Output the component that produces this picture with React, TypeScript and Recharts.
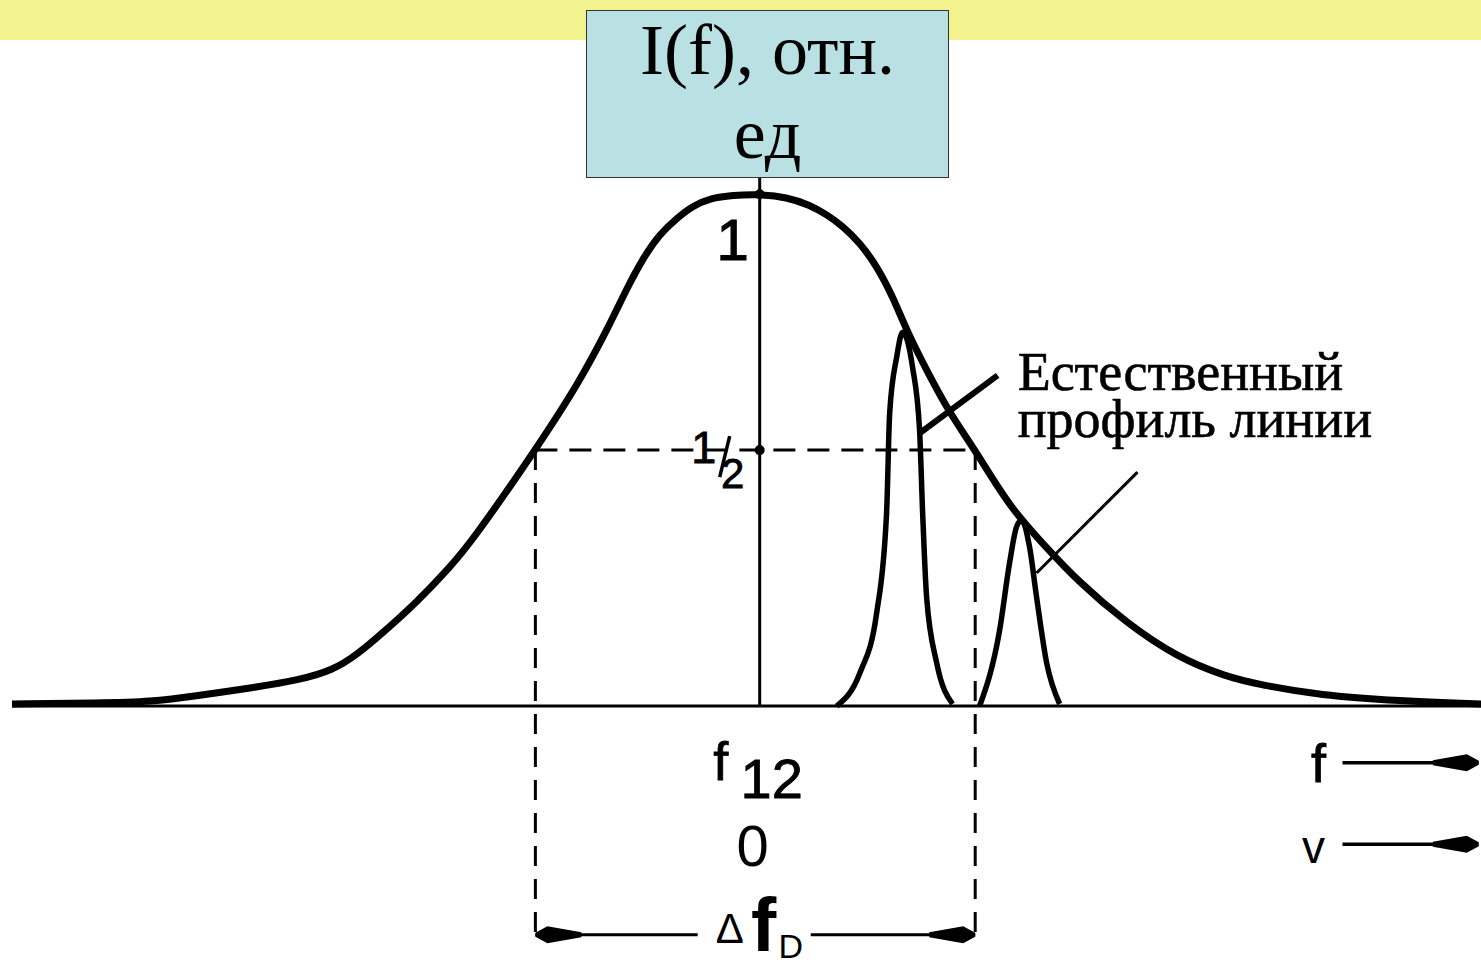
import { ComposedChart, Line, XAxis, YAxis, ReferenceLine, ReferenceDot } from 'recharts'

// Doppler profile I(f), normalised to 1 at the line centre f12
const dopplerF = [-3.4, -3.0, -2.773, -2.545, -2.318, -2.091, -1.941, -1.832, -1.714, -1.559, -1.409, -1.305, -1.02, -0.818, -0.682, -0.605, -0.532, -0.455, -0.377, -0.305, -0.227, -0.123, 0, 0.123, 0.227, 0.305, 0.377, 0.455, 0.532, 0.605, 0.668, 0.759, 0.864, 0.98, 1.136, 1.286, 1.441, 1.668, 1.895, 2.123, 2.273, 2.545, 2.909, 3.28]
const dopplerI = [0.004, 0.006, 0.008, 0.021, 0.035, 0.051, 0.07, 0.1, 0.143, 0.203, 0.271, 0.324, 0.5, 0.634, 0.745, 0.815, 0.874, 0.922, 0.953, 0.977, 0.992, 0.998, 1, 0.994, 0.979, 0.96, 0.938, 0.905, 0.86, 0.8, 0.734, 0.656, 0.572, 0.5, 0.389, 0.318, 0.246, 0.162, 0.096, 0.057, 0.042, 0.021, 0.01, 0.004]

// two natural line profiles sitting under the Doppler envelope
const natural1F = [0.35, 0.455, 0.532, 0.577, 0.591, 0.623, 0.65, 0.695, 0.727, 0.741, 0.759, 0.805, 0.877]
const natural1I = [0, 0.064, 0.182, 0.377, 0.572, 0.682, 0.73, 0.662, 0.539, 0.377, 0.213, 0.084, 0.004]
const natural2F = [1.0, 1.091, 1.136, 1.168, 1.191, 1.227, 1.259, 1.305, 1.364]
const natural2I = [0, 0.148, 0.279, 0.35, 0.363, 0.311, 0.213, 0.084, 0.004]

// half-maximum points of the Doppler profile (width = Δf_D)
const halfLeft = -1.02
const halfRight = 0.98

const toRows = (f: number[], i: number[]) => f.map((x, k) => ({ x, y: i[k] }))
const doppler = toRows(dopplerF, dopplerI)
const natural1 = toRows(natural1F, natural1I)
const natural2 = toRows(natural2F, natural2I)

const SANS = '"Liberation Sans", Arial, sans-serif'
const SERIF = '"Liberation Serif", "Times New Roman", serif'

const arrowHead = (dir: 1 | -1) => (p: any) => {
  const { cx, cy } = p
  const pts = [[0, -2], [0, 2], [-12, 8.5], [-46, 2.5], [-46, -2.5], [-12, -8.5]]
    .map(([dx, dy]) => `${cx + dir * dx},${cy + dy}`)
    .join(' ')
  return <polygon points={pts} fill="#000" />
}

export default function App() {
  return (
    <div style={{ position: 'absolute', left: 0, top: 0, width: 1481, height: 966, background: '#fff', overflow: 'hidden' }}>
      <div style={{ position: 'absolute', left: 0, top: 0, width: 1481, height: 40, background: '#f2f28e' }} />
      <div style={{ position: 'absolute', left: 0, top: 0 }}>
        <ComposedChart width={1481} height={966} margin={{ top: 15, right: 0, bottom: 4, left: 12 }}>
          <XAxis type="number" dataKey="x" domain={[-3.4, 3.28]} hide allowDataOverflow />
          <YAxis type="number" domain={[-0.5, 1.35]} hide allowDataOverflow />

          {/* frequency axis */}
          <ReferenceLine segment={[{ x: -3.4, y: 0 }, { x: 3.28, y: 0 }]} stroke="#000" strokeWidth={3} />
          {/* centre line f12 */}
          <ReferenceLine segment={[{ x: 0, y: 0 }, { x: 0, y: 1.035 }]} stroke="#000" strokeWidth={3} />

          {/* half-maximum construction */}
          <ReferenceLine segment={[{ x: halfLeft, y: 0.5 }, { x: halfRight, y: 0.5 }]} stroke="#000" strokeWidth={3} strokeDasharray="22 12" />
          <ReferenceLine segment={[{ x: halfLeft, y: 0.5 }, { x: halfLeft, y: -0.462 }]} stroke="#000" strokeWidth={3} strokeDasharray="20 13" />
          <ReferenceLine segment={[{ x: halfRight, y: 0.5 }, { x: halfRight, y: -0.462 }]} stroke="#000" strokeWidth={3} strokeDasharray="20 13" />

          {/* Δf_D dimension arrows */}
          <ReferenceLine segment={[{ x: halfLeft, y: -0.447 }, { x: -0.282, y: -0.447 }]} stroke="#000" strokeWidth={3} />
          <ReferenceLine segment={[{ x: 0.232, y: -0.447 }, { x: halfRight, y: -0.447 }]} stroke="#000" strokeWidth={3} />
          <ReferenceDot x={halfLeft} y={-0.447} r={1} shape={arrowHead(-1)} />
          <ReferenceDot x={halfRight} y={-0.447} r={1} shape={arrowHead(1)} />

          {/* f and v direction arrows */}
          <ReferenceLine segment={[{ x: 2.65, y: -0.111 }, { x: 3.24, y: -0.111 }]} stroke="#000" strokeWidth={3.5} />
          <ReferenceLine segment={[{ x: 2.65, y: -0.27 }, { x: 3.24, y: -0.27 }]} stroke="#000" strokeWidth={3.5} />
          <ReferenceDot x={3.27} y={-0.111} r={1} shape={arrowHead(1)} />
          <ReferenceDot x={3.27} y={-0.27} r={1} shape={arrowHead(1)} />

          {/* leader lines to the natural profiles */}
          <ReferenceLine segment={[{ x: 0.727, y: 0.533 }, { x: 1.082, y: 0.646 }]} stroke="#000" strokeWidth={6} />
          <ReferenceLine segment={[{ x: 1.259, y: 0.26 }, { x: 1.718, y: 0.457 }]} stroke="#000" strokeWidth={3} />

          <Line data={doppler} dataKey="y" type="basis" stroke="#000" strokeWidth={7} dot={false} isAnimationActive={false} />
          <Line data={natural1} dataKey="y" type="monotone" stroke="#000" strokeWidth={5.5} dot={false} isAnimationActive={false} />
          <Line data={natural2} dataKey="y" type="monotone" stroke="#000" strokeWidth={5.5} dot={false} isAnimationActive={false} />

          <ReferenceDot x={0} y={1} r={5} fill="#000" stroke="none" />
          <ReferenceDot x={0} y={0.5} r={5} fill="#000" stroke="none" />

          {/* value labels */}
          <ReferenceDot x={-0.123} y={0.871} r={1} shape={(p: any) => (
            <text x={p.cx} y={p.cy} textAnchor="middle" fontFamily={SANS} fontSize={58} stroke="#000" strokeWidth={1.2}>1</text>
          )} />
          <ReferenceDot x={0} y={0.5} r={1} shape={(p: any) => (
            <g fontFamily={SANS} fill="#000" stroke="#000" strokeWidth={0.8}>
              <text x={p.cx - 56} y={p.cy + 13} textAnchor="middle" fontSize={45}>1</text>
              <line x1={p.cx - 40} y1={p.cy + 27} x2={p.cx - 30} y2={p.cy - 14} strokeWidth={3.5} />
              <text x={p.cx - 27} y={p.cy + 38} textAnchor="middle" fontSize={42}>2</text>
            </g>
          )} />
          <ReferenceDot x={0} y={-0.148} r={1} shape={(p: any) => (
            <g fontFamily={SANS} fill="#000" stroke="#000" strokeWidth={0.8}>
              <text x={p.cx - 39} y={p.cy - 2} textAnchor="middle" fontSize={54}>f</text>
              <text x={p.cx + 12} y={p.cy + 16} textAnchor="middle" fontSize={56}>12</text>
            </g>
          )} />
          <ReferenceDot x={-0.032} y={-0.3125} r={1} shape={(p: any) => (
            <text x={p.cx} y={p.cy} textAnchor="middle" fontFamily={SANS} fontSize={58}>0</text>
          )} />
          <ReferenceDot x={0} y={-0.458} r={1} shape={(p: any) => (
            <g fontFamily={SANS} fill="#000">
              <text x={p.cx - 30} y={p.cy + 2} textAnchor="middle" fontSize={42}>Δ</text>
              <text x={p.cx + 4} y={p.cy + 10} textAnchor="middle" fontSize={76} fontWeight="bold">f</text>
              <text x={p.cx + 31} y={p.cy + 17} textAnchor="middle" fontSize={34}>D</text>
            </g>
          )} />
          <ReferenceDot x={2.541} y={-0.148} r={1} shape={(p: any) => (
            <text x={p.cx} y={p.cy} textAnchor="middle" fontFamily={SANS} fontSize={54} stroke="#000" strokeWidth={0.8}>f</text>
          )} />
          <ReferenceDot x={2.518} y={-0.307} r={1} shape={(p: any) => (
            <text x={p.cx} y={p.cy} textAnchor="middle" fontFamily={SANS} fontSize={46}>v</text>
          )} />

          <ReferenceDot x={1.173} y={0.617} r={1} shape={(p: any) => (
            <text x={p.cx} y={p.cy} fontFamily={SERIF} fontSize={54} fill="#000" stroke="#000" strokeWidth={0.6}>
              <tspan x={p.cx}>Естественный</tspan>
              <tspan x={p.cx} dy={47}>профиль линии</tspan>
            </text>
          )} />
        </ComposedChart>
      </div>
      <div
        style={{
          position: 'absolute', left: 586, top: 10, width: 363, height: 168, boxSizing: 'border-box',
          background: '#b9e0e3', border: '1px solid #333', fontFamily: SERIF, fontSize: 72,
          lineHeight: '84px', textAlign: 'center', color: '#000',
        }}
      >
        <div style={{ position: 'relative', top: -3 }}>
          <div>I(f), отн.</div>
          <div>ед</div>
        </div>
      </div>
    </div>
  )
}
